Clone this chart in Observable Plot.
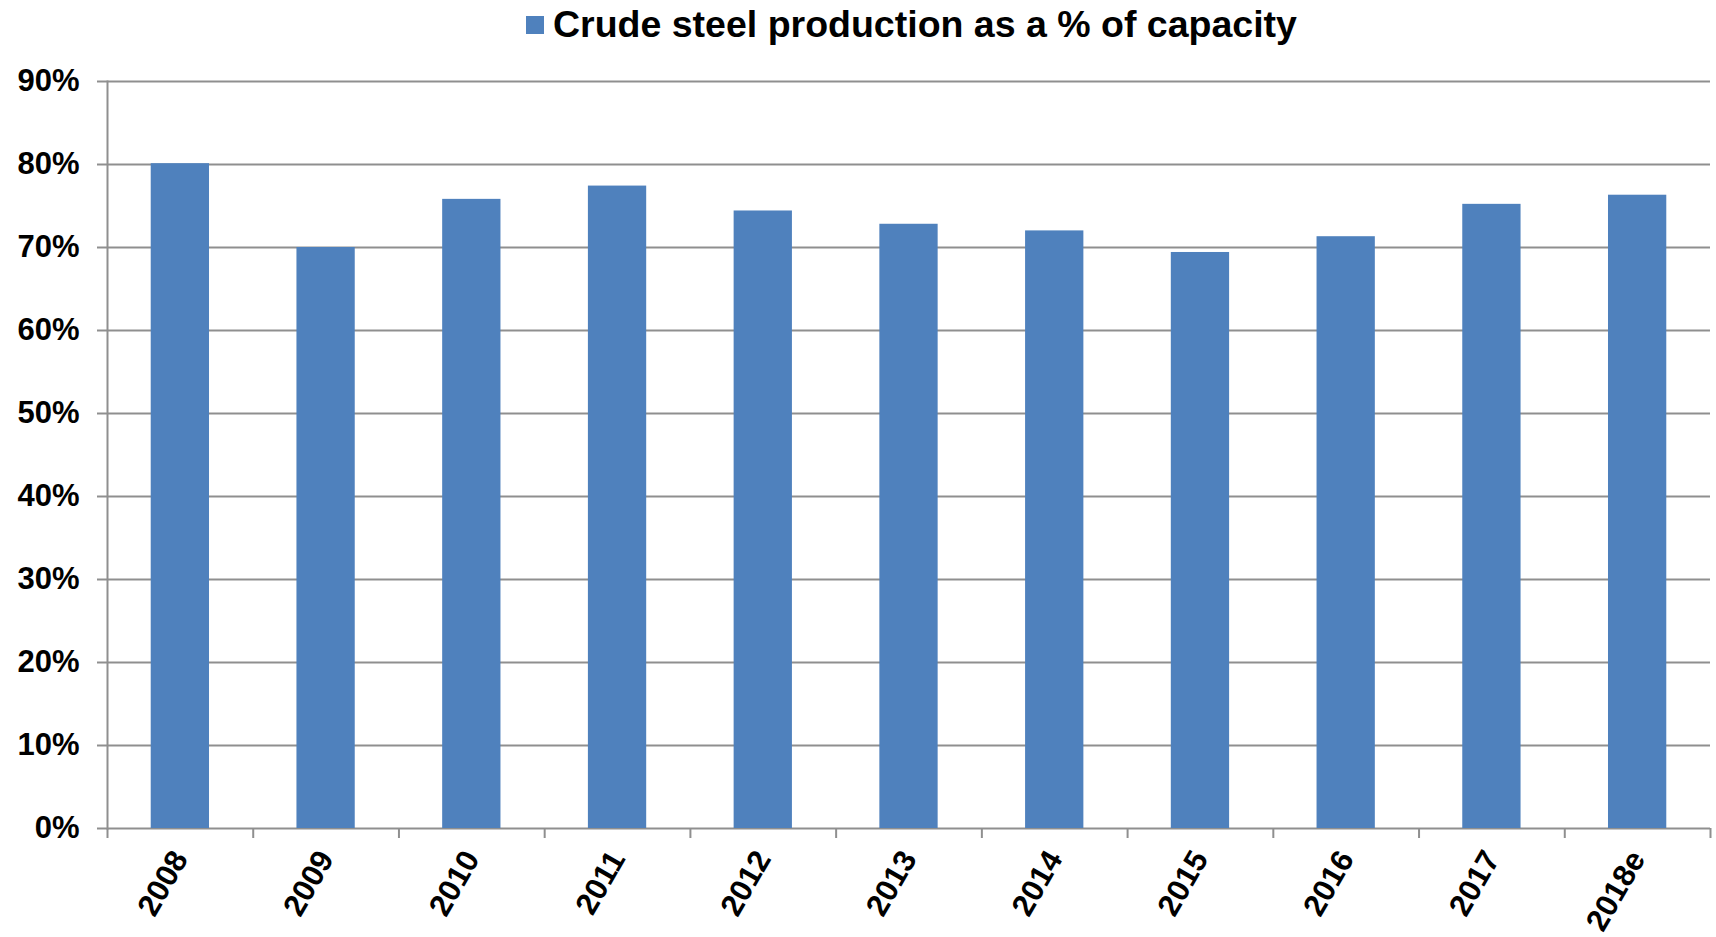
<!DOCTYPE html>
<html>
<head>
<meta charset="utf-8">
<script src="https://cdn.jsdelivr.net/npm/d3@7"></script>
<script src="https://cdn.jsdelivr.net/npm/@observablehq/plot@0.6"></script>
<style>
  html, body { margin: 0; padding: 0; background: #fff; }
  body { width: 1716px; height: 937px; position: relative; overflow: hidden; font-family: "Liberation Sans", Arial, sans-serif; }
  #legend { position: absolute; left: 0; top: 0; width: 1716px; height: 50px; }
  #legend .item { position: absolute; left: 526px; top: 3px; display: flex; align-items: center; white-space: nowrap; }
  #legend .sw { width: 18px; height: 18px; background: #4F81BD; margin-right: 9px; }
  #legend .lbl { font-size: 37.5px; font-weight: bold; color: #000; }
  #chart { position: absolute; left: 0; top: 50px; }
</style>
</head>
<body>
<div id="legend"><div class="item"><div class="sw"></div><div class="lbl" id="legendText"></div></div></div>
<div id="chart"></div>
<script>
const seriesName = "Crude steel production as a % of capacity";
const years = ["2008", "2009", "2010", "2011", "2012", "2013", "2014", "2015", "2016", "2017", "2018e"];
const utilization = [0.801, 0.700, 0.758, 0.774, 0.744, 0.728, 0.720, 0.694, 0.713, 0.752, 0.763];
const yTicks = [0, 0.1, 0.2, 0.3, 0.4, 0.5, 0.6, 0.7, 0.8, 0.9];

document.getElementById("legendText").textContent = seriesName;

const data = years.map((year, i) => ({year, value: utilization[i]}));

const W = 1716, H = 887;
const mL = 107, mR = 6, mT = 31, mB = 109;
const step = (W - mL - mR) / years.length;
const gridColor = "#8f8f8f";
const barColor = "#4F81BD";

const chart = Plot.plot({
  width: W,
  height: H,
  marginLeft: mL,
  marginRight: mR,
  marginTop: mT,
  marginBottom: mB,
  style: {fontFamily: "'Liberation Sans', Arial, sans-serif", background: "#fff", color: "#000", overflow: "visible"},
  x: {domain: years, paddingInner: 0.6, paddingOuter: 0.3, align: 0.5, round: false, label: null},
  y: {domain: [0, 0.9], label: null},
  marks: [
    Plot.ruleY(yTicks, {stroke: gridColor, strokeWidth: 2}),
    Plot.barY(data, {x: "year", y: "value", fill: barColor}),
    Plot.frame({anchor: "left", stroke: gridColor, strokeWidth: 2}),
    Plot.axisY(yTicks, {
      tickSize: 10, tickPadding: 18, stroke: gridColor, strokeWidth: 2,
      tickFormat: d3.format(".0%"), fontSize: 31, fontWeight: "bold", fill: "#000", label: null
    }),
    Plot.axisX(years, {tickSize: 10, stroke: gridColor, strokeWidth: 2, text: null, dx: -step / 2, label: null}),
    Plot.axisX([years[years.length - 1]], {tickSize: 10, stroke: gridColor, strokeWidth: 2, text: null, dx: step / 2, label: null}),
    Plot.axisX(years, {tickSize: 0, tickPadding: 25, tickRotate: -60, fontSize: 31, fontWeight: "bold", fill: "#000", label: null})
  ]
});
document.getElementById("chart").appendChild(chart);
</script>
</body>
</html>
